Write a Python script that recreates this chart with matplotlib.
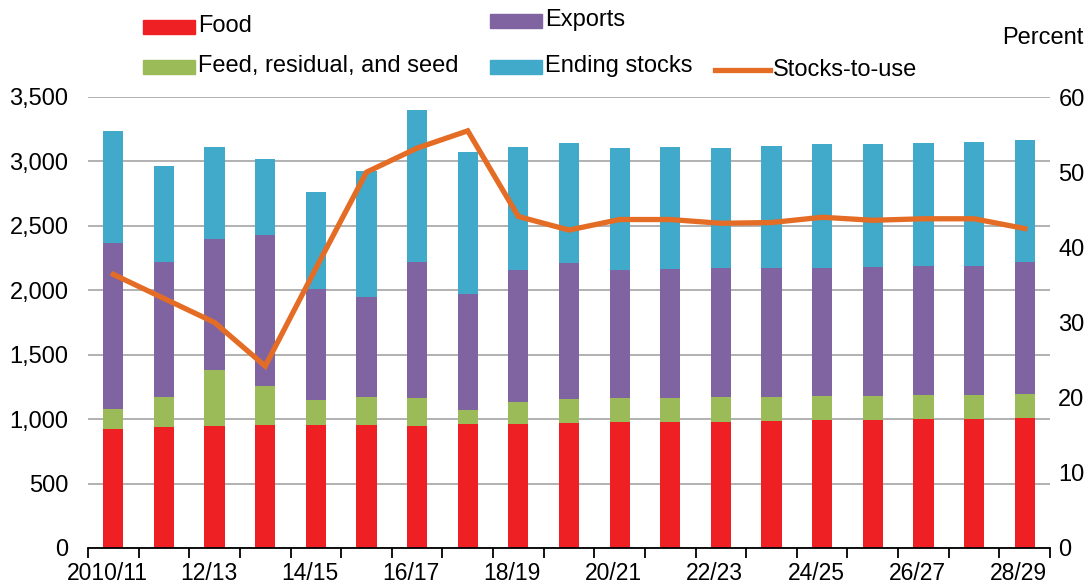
import numpy as np
import matplotlib
matplotlib.use("Agg")
import matplotlib.pyplot as plt
from matplotlib.patches import Rectangle
from matplotlib.lines import Line2D

plt.rcParams['font.family'] = ['Liberation Sans', 'DejaVu Sans']

years = ['2010/11', '11/12', '12/13', '13/14', '14/15', '15/16', '16/17', '17/18', '18/19',
         '19/20', '20/21', '21/22', '22/23', '23/24', '24/25', '25/26', '26/27', '27/28', '28/29']

# cumulative tops, converted to segment sizes below
food = [921, 936, 947, 952, 952, 952, 947, 960, 960,
        970, 975, 975, 981, 983, 991, 994, 999, 1004, 1006]
feed_top = [1079, 1175, 1385, 1255, 1149, 1170, 1167, 1074, 1136,
            1160, 1165, 1167, 1170, 1175, 1178, 1183, 1185, 1191, 1193]
exports_top = [2370, 2222, 2401, 2432, 2012, 1950, 2217, 1973, 2160,
               2212, 2160, 2165, 2170, 2176, 2176, 2181, 2186, 2191, 2220]
total = [3233, 2963, 3114, 3021, 2764, 2925, 3396, 3075, 3114,
         3142, 3106, 3111, 3106, 3116, 3137, 3134, 3145, 3150, 3163]
stocks_to_use = [36.4, 33.2, 30.0, 24.2, 37.2, 50.0, 53.2, 55.5, 44.1,
                 42.3, 43.7, 43.7, 43.2, 43.3, 44.0, 43.6, 43.8, 43.8, 42.5]

food = np.array(food)
feed = np.array(feed_top) - food
exports = np.array(exports_top) - np.array(feed_top)
stocks = np.array(total) - np.array(exports_top)

c_food = '#EE2024'
c_feed = '#9BBB59'
c_exp = '#8064A2'
c_stk = '#41A9C9'
c_line = '#E46C24'

fig = plt.figure(figsize=(10.86, 5.83), dpi=100)
ax = fig.add_axes([88/1086, 1 - 548/583, (1050-88)/1086, (548-97)/583])
x = np.arange(len(years))
w = 0.4
ax.bar(x, food, w, color=c_food, zorder=2)
ax.bar(x, feed, w, bottom=food, color=c_feed, zorder=2)
ax.bar(x, exports, w, bottom=food + feed, color=c_exp, zorder=2)
ax.bar(x, stocks, w, bottom=food + feed + exports, color=c_stk, zorder=2)

ax.set_xlim(-0.5, len(years) - 0.5)
ax.set_ylim(0, 3500)
ax.set_yticks(range(0, 3501, 500))
ax.set_yticklabels([f'{v:,}' for v in range(0, 3501, 500)], fontsize=17)
ax.yaxis.grid(True, color='#ABABAB', linewidth=1.3, zorder=0)
ax.set_axisbelow(True)
for s in ['top', 'left', 'right']:
    ax.spines[s].set_visible(False)
ax.spines['bottom'].set_linewidth(1.3)
ax.tick_params(axis='y', length=0, pad=14)

ax.set_xticks(x[::2] - 0.12)
ax.set_xticklabels(years[::2], fontsize=16.5)
ax.set_xticks(np.arange(-0.5, len(years)), minor=True)
ax.tick_params(axis='x', which='major', length=0, pad=10)
ax.tick_params(axis='x', which='minor', length=7, width=1.3, direction='out')

ax2 = ax.twinx()
ax2.plot(x, stocks_to_use, color=c_line, linewidth=3.8, solid_joinstyle='miter', zorder=5)
ax2.set_ylim(0, 60)
ax2.set_yticks(range(0, 61, 10))
ax2.tick_params(axis='y', length=0, labelsize=17, pad=6)
for s in ['top', 'left', 'right', 'bottom']:
    ax2.spines[s].set_visible(False)

fig.text(1083/1086, 1 - 38/583, 'Percent', ha='right', va='center', fontsize=17)

# legend
def patch(x0, y0, color, label):
    fig.patches.append(Rectangle((x0/1086, 1 - (y0+14)/583), 52/1086, 14/583,
                                 transform=fig.transFigure, color=color))
    fig.text((x0+55)/1086, 1 - (y0+6)/583, label, ha='left', va='center', fontsize=17)

patch(143, 20, c_food, 'Food')
patch(490, 14, c_exp, 'Exports')
patch(143, 60, c_feed, 'Feed, residual, and seed')
patch(490, 60, c_stk, 'Ending stocks')
fig.lines.append(Line2D([715/1086, 770/1086], [1 - 70/583, 1 - 70/583],
                        transform=fig.transFigure, color=c_line, linewidth=3.8))
fig.text(773/1086, 1 - 70/583, 'Stocks-to-use', ha='left', va='center', fontsize=17)

fig.savefig('out.png', dpi=100)
